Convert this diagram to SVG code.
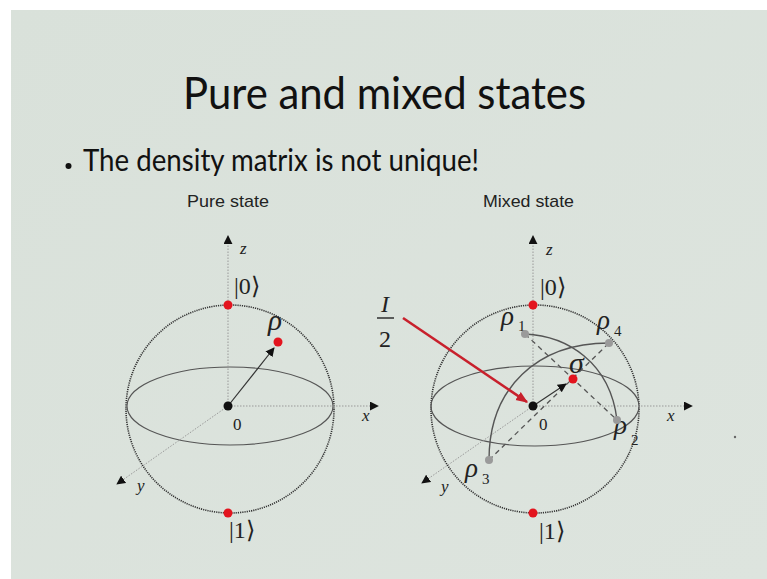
<svg xmlns="http://www.w3.org/2000/svg" width="767" height="579" viewBox="0 0 767 579">
<defs>
<linearGradient id="bg" x1="0" y1="0" x2="1" y2="1">
<stop offset="0" stop-color="#d9e1da"/>
<stop offset="1" stop-color="#dde4de"/>
</linearGradient>
<marker id="ah" viewBox="0 0 10 10" refX="9" refY="5" markerWidth="9" markerHeight="9" markerUnits="userSpaceOnUse" orient="auto">
<path d="M0,0 L10,5 L0,10 z" fill="#111"/>
</marker>
<marker id="ahr" viewBox="0 0 10 10" refX="9" refY="5" markerWidth="12" markerHeight="12" markerUnits="userSpaceOnUse" orient="auto">
<path d="M0,1 L10,5 L0,9 z" fill="#c8202c"/>
</marker>
</defs>
<style>
.sphere{fill:none;stroke:#333;stroke-width:1.6;stroke-dasharray:1.2 1}
.eq{fill:none;stroke:#555;stroke-width:1.1}
.axis{fill:none;stroke:#999;stroke-width:1;stroke-dasharray:1.5 1.5}
.vec{fill:none;stroke:#333;stroke-width:1.2}
.dash{fill:none;stroke:#555;stroke-width:1.3;stroke-dasharray:5 4}
.arc{fill:none;stroke:#555;stroke-width:1.4}
.red{fill:#e3141e}
.grey{fill:#9a9a9a}
.blk{fill:#111}
.lbl{font-family:"Liberation Serif",serif;fill:#222}
.it{font-style:italic}
.sans{font-family:"Liberation Sans",Arial,sans-serif;fill:#222}
.cal{font-family:Lato,"Open Sans",sans-serif;fill:#111}
</style>
<rect x="0" y="0" width="767" height="579" fill="#ffffff"/>
<rect x="11" y="10" width="756" height="569" fill="url(#bg)"/>
<circle cx="735" cy="437" r="1.2" fill="#666"/>

<g id="title">
<text class="cal" x="183" y="109" font-size="44" textLength="403" lengthAdjust="spacingAndGlyphs">Pure and mixed states</text>
</g>
<g id="bullet">
<circle cx="68.5" cy="166" r="3" fill="#111"/>
<text class="cal" x="83" y="171" font-size="30" textLength="396" lengthAdjust="spacingAndGlyphs">The density matrix is not unique!</text>
</g>
<g id="pure-caption"><text class="sans" x="187" y="207" font-size="17" textLength="82" lengthAdjust="spacingAndGlyphs">Pure state</text></g>
<g id="mixed-caption"><text class="sans" x="483" y="207" font-size="17" textLength="91" lengthAdjust="spacingAndGlyphs">Mixed state</text></g>

<g id="pure-sphere">
<circle class="sphere" cx="230" cy="409" r="104"/>
<ellipse class="eq" cx="230" cy="406" rx="103" ry="39"/>
<text class="lbl" x="234" y="294" font-size="24">|0⟩</text>
<text class="lbl" x="229" y="538" font-size="24">|1⟩</text>
<text class="lbl it" x="240" y="254" font-size="17">z</text>
<text class="lbl it" x="362" y="421" font-size="17">x</text>
<text class="lbl it" x="137" y="491" font-size="17">y</text>
<text class="lbl" x="233" y="430" font-size="17">0</text>
<text class="lbl it" x="268" y="330" font-size="29">ρ</text>
</g>

<g id="mixed-sphere">
<circle class="sphere" cx="535" cy="409" r="104"/>
<ellipse class="eq" cx="535" cy="406" rx="104" ry="40"/>
<text class="lbl" x="540" y="295" font-size="24">|0⟩</text>
<text class="lbl" x="539" y="539" font-size="24">|1⟩</text>
<text class="lbl it" x="546" y="255" font-size="17">z</text>
<text class="lbl it" x="667" y="421" font-size="17">x</text>
<text class="lbl it" x="441" y="492" font-size="17">y</text>
<text class="lbl" x="539" y="430" font-size="17">0</text>
<text class="lbl it" x="569" y="373" font-size="30">σ</text>
<text class="lbl it" x="501" y="325" font-size="27">ρ</text><text class="lbl" x="518" y="331" font-size="15">1</text>
<text class="lbl it" x="597" y="329" font-size="27">ρ</text><text class="lbl" x="614" y="336" font-size="15">4</text>
<text class="lbl it" x="614" y="434" font-size="27">ρ</text><text class="lbl" x="631" y="445" font-size="15">2</text>
<text class="lbl it" x="465" y="477" font-size="27">ρ</text><text class="lbl" x="482" y="484" font-size="15">3</text>
</g>

<g id="identity-label">
<text class="lbl it" x="385" y="312" font-size="24" text-anchor="middle">I</text>
<line x1="377" y1="318" x2="394" y2="318" stroke="#222" stroke-width="1.4"/>
<text class="lbl" x="385" y="347" font-size="24" text-anchor="middle">2</text>
</g>

<g id="connectors">
<line class="axis" x1="228" y1="406" x2="228" y2="236" marker-end="url(#ah)"/>
<line class="axis" x1="228" y1="406" x2="378" y2="406" marker-end="url(#ah)"/>
<line class="axis" x1="228" y1="406" x2="117" y2="484" marker-end="url(#ah)"/>
<line class="vec" x1="228" y1="406" x2="274" y2="348" marker-end="url(#ah)"/>
<line class="axis" x1="533" y1="406" x2="533" y2="236" marker-end="url(#ah)"/>
<line class="axis" x1="533" y1="406" x2="692" y2="406" marker-end="url(#ah)"/>
<line class="axis" x1="533" y1="406" x2="422" y2="483" marker-end="url(#ah)"/>
<line class="dash" x1="525" y1="334" x2="617" y2="420"/>
<line class="dash" x1="489" y1="460" x2="609" y2="343"/>
<path class="arc" d="M525,334 C567,336 610,362 617,420"/>
<path class="arc" d="M489,460 C489,388 537,343 609,343"/>
<line class="vec" x1="533" y1="406" x2="566" y2="384" marker-end="url(#ah)"/>
<line x1="403" y1="318" x2="527" y2="402" stroke="#c8202c" stroke-width="2.6" marker-end="url(#ahr)"/>
</g>

<g id="points">
<circle class="red" cx="228" cy="305" r="4.5"/>
<circle class="red" cx="228" cy="513" r="4.5"/>
<circle class="red" cx="278" cy="342" r="4.5"/>
<circle class="blk" cx="228" cy="406" r="4.5"/>
<circle class="red" cx="533" cy="305" r="4.5"/>
<circle class="red" cx="533" cy="513" r="4.5"/>
<circle class="red" cx="573" cy="379" r="4.5"/>
<circle class="blk" cx="533" cy="406" r="4.5"/>
<circle class="grey" cx="525" cy="334" r="4"/>
<circle class="grey" cx="609" cy="343" r="4"/>
<circle class="grey" cx="617" cy="420" r="4"/>
<circle class="grey" cx="489" cy="460" r="4"/>
</g>
</svg>
